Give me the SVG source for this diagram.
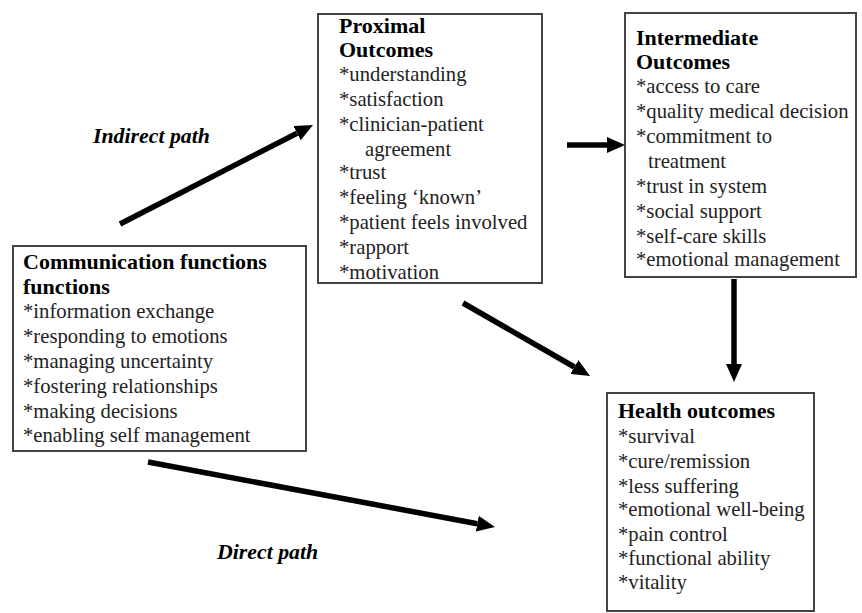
<svg xmlns="http://www.w3.org/2000/svg" width="862" height="613" viewBox="0 0 862 613">
<style>
.box{fill:#fff;stroke:#444;stroke-width:2}
text{font-family:"Liberation Serif","Times New Roman",serif;font-size:20.7px;fill:#222}
.h{font-weight:bold;fill:#000;font-size:22px}
.lbl{font-weight:bold;font-style:italic;fill:#000;font-size:21.8px}
.arr{stroke:#000;stroke-width:5.5;fill:none;marker-end:url(#ah)}
</style>
<defs>
<marker id="ah" markerUnits="userSpaceOnUse" viewBox="0 -8 18 16" markerWidth="18" markerHeight="16" refX="0" refY="0" orient="auto">
<path d="M0,-8 L18,0 L0,8 z" fill="#000"/>
</marker>
</defs>
<rect width="862" height="613" fill="#fff"/>
<g id="comm">
<rect class="box" x="13" y="246" width="293" height="205"/>
<text class="h" x="23" y="269">Communication functions</text>
<text class="h" x="23" y="294">functions</text>
<text x="23" y="318">*information exchange</text>
<text x="23" y="343">*responding to emotions</text>
<text x="23" y="368">*managing uncertainty</text>
<text x="23" y="393">*fostering relationships</text>
<text x="23" y="418">*making decisions</text>
<text x="23" y="442">*enabling self management</text>
</g>
<g id="proximal">
<rect class="box" x="318" y="14" width="224" height="269"/>
<text class="h" x="339" y="33">Proximal</text>
<text class="h" x="339" y="57">Outcomes</text>
<text x="339" y="81">*understanding</text>
<text x="339" y="106">*satisfaction</text>
<text x="339" y="131">*clinician-patient</text>
<text x="365" y="156">agreement</text>
<text x="339" y="179">*trust</text>
<text x="339" y="204">*feeling ‘known’</text>
<text x="339" y="229">*patient feels involved</text>
<text x="339" y="254">*rapport</text>
<text x="339" y="279">*motivation</text>
</g>
<g id="intermediate">
<rect class="box" x="625" y="13" width="231" height="264"/>
<text class="h" x="636" y="45">Intermediate</text>
<text class="h" x="636" y="69">Outcomes</text>
<text x="636" y="93">*access to care</text>
<text x="636" y="118">*quality medical decision</text>
<text x="636" y="143">*commitment to</text>
<text x="648" y="168">treatment</text>
<text x="636" y="193">*trust in system</text>
<text x="636" y="218">*social support</text>
<text x="636" y="243">*self-care skills</text>
<text x="636" y="266">*emotional management</text>
</g>
<g id="health">
<rect class="box" x="607" y="393" width="207" height="218"/>
<text class="h" x="618" y="418">Health outcomes</text>
<text x="618" y="443">*survival</text>
<text x="618" y="468">*cure/remission</text>
<text x="618" y="493">*less suffering</text>
<text x="618" y="516">*emotional well-being</text>
<text x="618" y="541">*pain control</text>
<text x="618" y="565">*functional ability</text>
<text x="618" y="589">*vitality</text>
</g>
<g id="labels">
<text class="lbl" x="93" y="143">Indirect path</text>
<text class="lbl" x="217" y="559">Direct path</text>
</g>
<g id="connectors">
<line class="arr" x1="120" y1="224" x2="297" y2="133.2"/>
<line class="arr" x1="567" y1="145" x2="607" y2="145"/>
<line class="arr" x1="734" y1="279" x2="734" y2="364"/>
<line class="arr" x1="463" y1="303" x2="574.4" y2="367"/>
<line class="arr" x1="148" y1="462" x2="477.3" y2="523.7"/>
</g>
</svg>
